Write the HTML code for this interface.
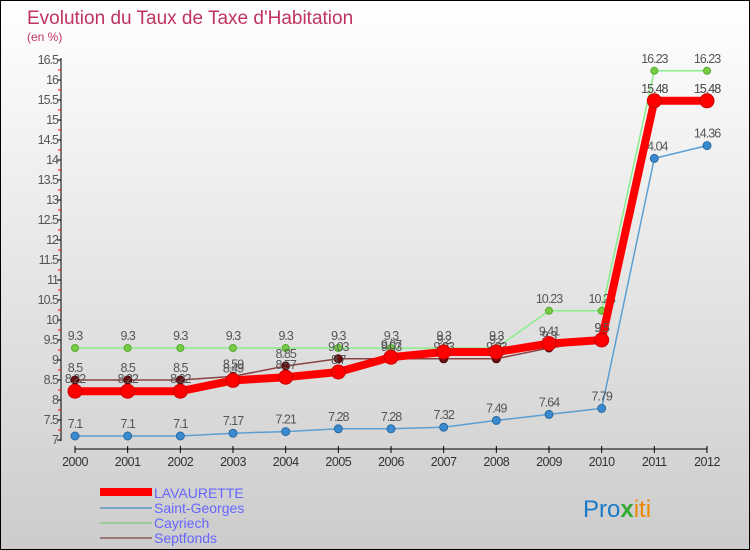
<!DOCTYPE html>
<html><head><meta charset="utf-8"><style>
body{margin:0}
#c{width:750px;height:550px;position:relative;box-sizing:border-box;border:1px solid #000;background:linear-gradient(#fff,#ccc);font-family:"Liberation Sans",sans-serif;overflow:hidden}
</style></head><body>
<div id="c">
<svg id="s" width="750" height="550" style="position:absolute;left:-1px;top:-1px">
<text x="27" y="24" font-size="19" fill="#c0335e">Evolution du Taux de Taxe d'Habitation</text>
<text x="27" y="41" font-size="12" fill="#c0335e">(en %)</text>
<g id="ax"></g><g id="series"></g>
<g>
<rect x="100" y="488" width="52" height="8" fill="#f00"/>
<text x="154" y="498" font-size="14" fill="#66f">LAVAURETTE</text>
<rect x="100" y="507" width="52" height="2" fill="#7aa6c8"/>
<text x="154" y="513" font-size="14" fill="#66f">Saint-Georges</text>
<rect x="100" y="522" width="52" height="2" fill="#9c9"/>
<text x="154" y="528" font-size="14" fill="#66f">Cayriech</text>
<rect x="100" y="537" width="52" height="2" fill="#977"/>
<text x="154" y="543" font-size="14" fill="#66f">Septfonds</text>
</g>
<text x="583" y="517" font-size="24"><tspan fill="#1a7ac8">Pro</tspan><tspan fill="#3a3" font-weight="bold">x</tspan><tspan fill="#e80">iti</tspan></text>
</svg>
</div>
<script>
const years=[2000,2001,2002,2003,2004,2005,2006,2007,2008,2009,2010,2011,2012];
const lavaurette=[8.22,8.22,8.22,8.49,8.57,8.7,9.07,9.2,9.2,9.41,9.5,15.48,15.48];
const saintGeorges=[7.1,7.1,7.1,7.17,7.21,7.28,7.28,7.32,7.49,7.64,7.79,14.04,14.36];
const cayriech=[9.3,9.3,9.3,9.3,9.3,9.3,9.3,9.3,9.3,10.23,10.23,16.23,16.23];
const septfonds=[8.5,8.5,8.5,8.59,8.85,9.03,9.03,9.03,9.03,9.3,9.5,15.48,15.48];
const yTicks=[7,7.5,8,8.5,9,9.5,10,10.5,11,11.5,12,12.5,13,13.5,14,14.5,15,15.5,16,16.5];
const NS="http://www.w3.org/2000/svg";
const X=i=>75+i*(707-75)/(years.length-1);
const Y=v=>440-(v-7)*40;
function mk(t,a,p){const e=document.createElementNS(NS,t);for(const k in a)e.setAttribute(k,a[k]);p.appendChild(e);return e;}
const ax=document.getElementById('ax');
const axl=mk('line',{x1:61,y1:58,x2:61,y2:441,stroke:'#000'},ax);


const xl=mk('line',{x1:75,y1:449,x2:707,y2:449,stroke:'#000'},ax);


yTicks.forEach(v=>{
 mk('line',{x1:57,x2:61,y1:Y(v),y2:Y(v),stroke:'#000'},ax);
 if(v<16.5)mk('line',{x1:58,x2:61,y1:Y(v+0.25),y2:Y(v+0.25),stroke:'#f00'},ax);
 const t=mk('text',{x:58,y:Y(v)+4,'text-anchor':'end','font-size':12.5,fill:'#555','letter-spacing':'-1'},ax);
 t.textContent=String(v);
 
 
});
years.forEach((y,i)=>{
 mk('line',{x1:X(i),x2:X(i),y1:446,y2:453,stroke:'#000'},ax);
 const t=mk('text',{x:X(i),y:466,'text-anchor':'middle','font-size':12.5,fill:'#333','letter-spacing':'-0.5'},ax);
 t.textContent=y;
 
 
});
const sg=document.getElementById('series');
function series(data,name,color,w,r,dot,dotStroke){
 const g=mk('g',{},sg);
 
 
 const l=mk('polyline',{points:data.map((v,i)=>X(i)+','+Y(v)).join(' '),fill:'none',stroke:color,'stroke-width':w,'stroke-linejoin':'round'},g);
 
 
 data.forEach((v,i)=>{
  const c=mk('circle',{cx:X(i),cy:Y(v),r:r,fill:dot,stroke:dotStroke,'stroke-width':1},g);
  
  
  const t=mk('text',{x:X(i),y:Y(v)-8,'text-anchor':'middle','font-size':12.5,fill:'#555','letter-spacing':'-1'},g);
  t.textContent=String(v);
  
  
 });
}
series(saintGeorges,'saint-georges','#5a9fd4',1.5,4,'#3a8ad0','#2a6aa0');
series(cayriech,'cayriech','#8e8',1.5,3.5,'#7c4','#5a3');
series(septfonds,'septfonds','#844',1.5,4,'#6a1010','#400');
series(lavaurette,'lavaurette','#f00',8,7,'#f00','#c00');
</script>
</body></html>
